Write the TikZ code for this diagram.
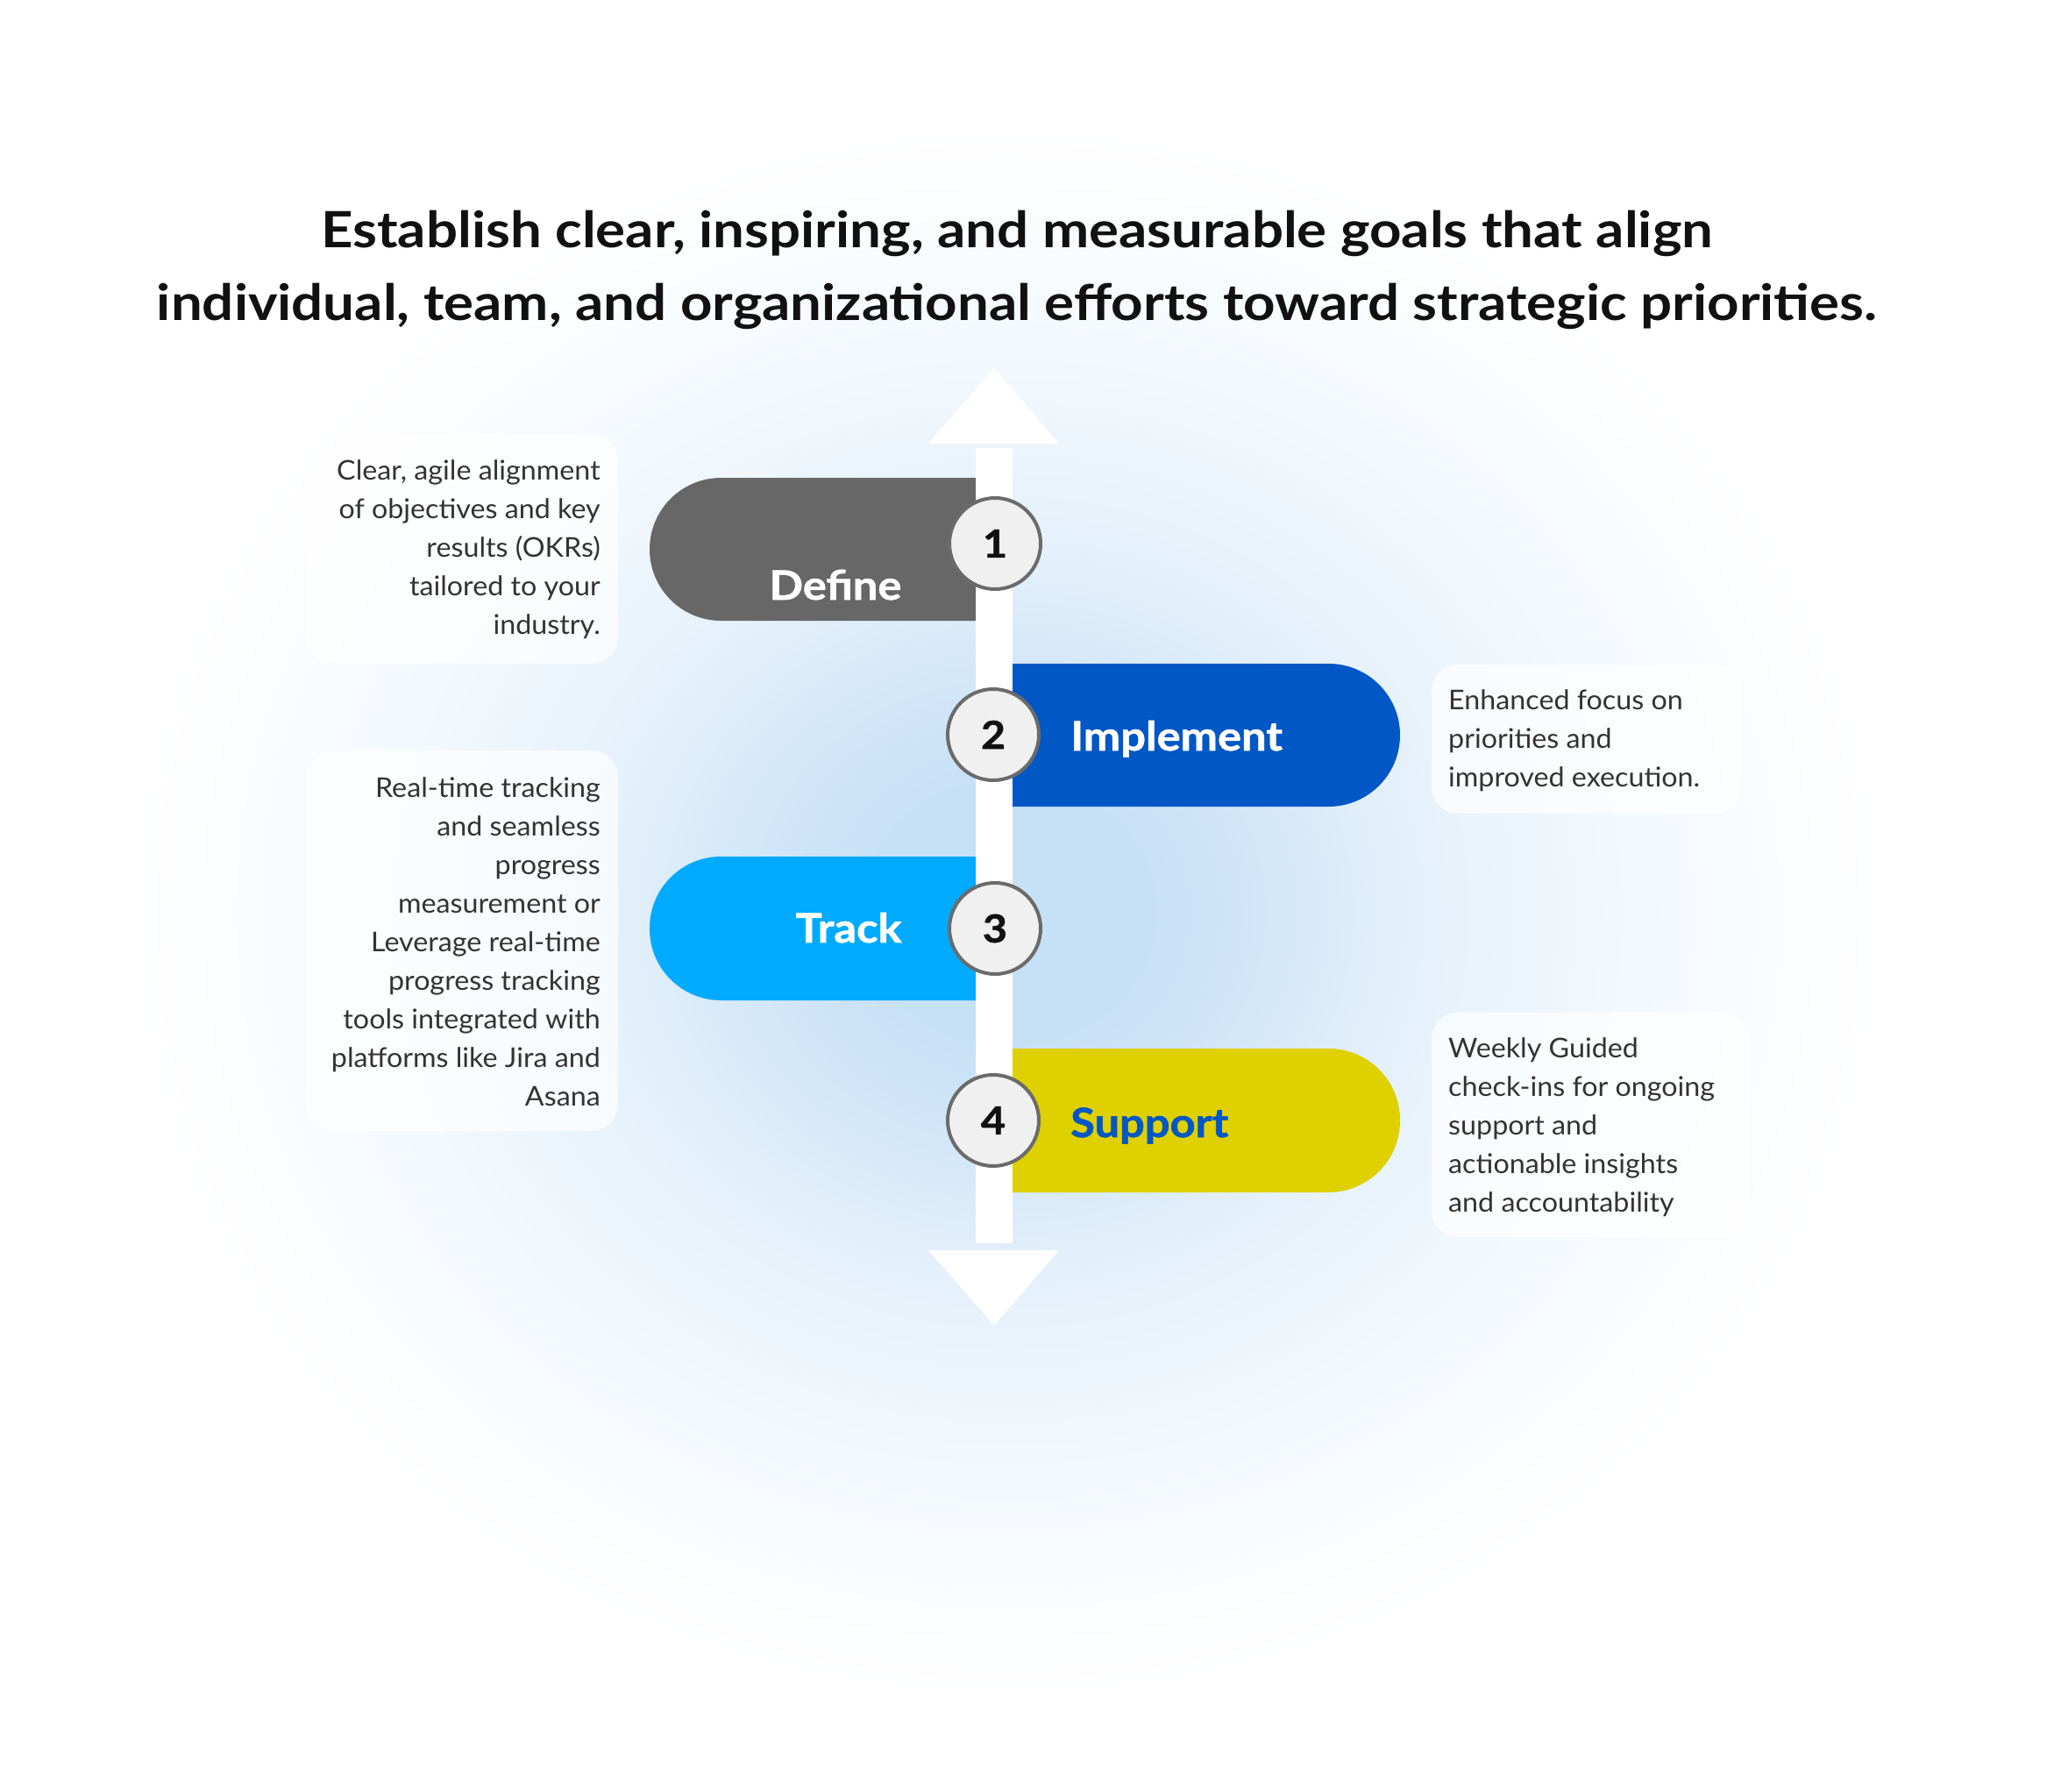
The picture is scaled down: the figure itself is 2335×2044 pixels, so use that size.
\documentclass[tikz,border=0pt]{standalone}
\usepackage{fontspec}
\setmainfont[FakeStretch=1.04]{Lato}
\newfontfamily\titlefont[FakeStretch=1.115]{Lato}
\newfontfamily\pillfont[FakeStretch=1.1,BoldFeatures={FakeBold=1.2}]{Lato}
\definecolor{glowc}{HTML}{C6E0F6}
\definecolor{defc}{HTML}{676767}
\definecolor{impc}{HTML}{0057C5}
\definecolor{trkc}{HTML}{00AAFF}
\definecolor{supc}{HTML}{DFD000}
\definecolor{txtc}{HTML}{333333}
\definecolor{titc}{HTML}{111111}
\definecolor{ringc}{HTML}{6B6B6B}
\definecolor{circfill}{HTML}{F0F0F0}
\pgfdeclareradialshading{bgglow}{\pgfpoint{0bp}{0bp}}{color(0bp)=(glowc);color(4bp)=(glowc);color(8bp)=(glowc!75!white);color(11bp)=(glowc!50!white);color(17.5bp)=(glowc!21!white);color(23bp)=(glowc!5!white);color(25bp)=(white);color(50bp)=(white)}
\tikzset{
  titletxt/.style={font=\titlefont\bfseries\fontsize{57}{68}\selectfont, text=titc, inner sep=0pt, anchor=base},
  bodytxt/.style={font=\fontsize{31}{44}\selectfont, text=txtc, inner sep=0pt},
  pilltxt/.style={font=\pillfont\bfseries\fontsize{46}{46}\selectfont, inner sep=0pt, anchor=base},
  numc/.style={circle, minimum size=104pt, inner sep=0pt, draw=ringc, line width=4pt, fill=circfill, text=titc, font=\pillfont\bfseries\fontsize{44}{44}\selectfont},
  infobox/.style={fill=white, fill opacity=0.7, rounded corners=30pt},
}
\begin{document}
\begin{tikzpicture}[x=1pt,y=-1pt]
\useasboundingbox (0,0) rectangle (2335,2044);
\fill[white] (0,0) rectangle (2335,2044);
\shade[shading=bgglow] (150,140) rectangle (2150,1940);

% title
\node[titletxt] (title1) at (1160,283) {Establish clear, inspiring, and measurable goals that align};
\node[titletxt] (title2) at (1160,365) {individual, team, and organizational efforts toward strategic priorities.};

% info boxes
\fill[infobox] (350,495) rectangle (705,757);
\fill[infobox] (1633,758) rectangle (1985,928);
\fill[infobox] (350,856) rectangle (705,1290);
\fill[infobox] (1633,1155) rectangle (1995,1411);

% pills
\fill[defc] (1133,545) [rounded corners=81.5pt] -- (741,545) -- (741,708) [sharp corners] -- (1133,708) -- cycle;
\fill[impc] (1133,757) [rounded corners=81.5pt] -- (1597,757) -- (1597,920) [sharp corners] -- (1133,920) -- cycle;
\fill[trkc] (1133,977) [rounded corners=81.5pt] -- (741,977) -- (741,1141) [sharp corners] -- (1133,1141) -- cycle;
\fill[supc] (1133,1196) [rounded corners=81.5pt] -- (1597,1196) -- (1597,1360) [sharp corners] -- (1133,1360) -- cycle;

% timeline bar and arrow heads
\coordinate (bartop) at (1134,511);
\coordinate (barbot) at (1134,1418);
\fill[white] (1113,511) rectangle (1155,1418);
\fill[white] (1134,420) -- (1208,506) -- (1059,506) -- cycle;
\fill[white] (1059,1426) -- (1208,1426) -- (1134,1512) -- cycle;

% pill labels
\node[pilltxt, text=white] (tdef) at (953,684) {Define};
\node[pilltxt, text=white, anchor=base west] (timp) at (1221,856) {Implement};
\node[pilltxt, text=white] (ttrk) at (968,1075) {Track};
\node[pilltxt, text=impc, anchor=base west] (tsup) at (1221,1297) {Support};

% number circles
\node[numc] (n1) at (1135,620) {1};
\node[numc] (n2) at (1133,838) {2};
\node[numc] (n3) at (1135,1059) {3};
\node[numc] (n4) at (1133,1278) {4};

% descriptions (anchored at the baseline of the last line)
\node[bodytxt, anchor=base east, align=right] (d1) at (685,723) {Clear, agile alignment\\of objectives and key\\results (OKRs)\\tailored to your\\industry.};
\node[bodytxt, anchor=base west, align=left] (d2) at (1652,897) {Enhanced focus on\\priorities and\\improved execution.};
\node[bodytxt, anchor=base east, align=right] (d3) at (685,1261) {Real-time tracking\\and seamless\\progress\\measurement or\\Leverage real-time\\progress tracking\\tools integrated with\\platforms like Jira and\\Asana};
\node[bodytxt, anchor=base west, align=left] (d4) at (1652,1382) {Weekly Guided\\check-ins for ongoing\\support and\\actionable insights\\and accountability};
\end{tikzpicture}
\end{document}
